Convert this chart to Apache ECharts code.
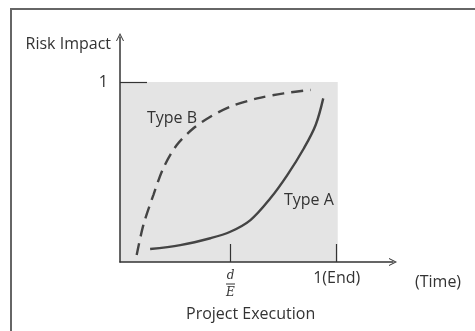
<!DOCTYPE html>
<html>
<head>
<meta charset="utf-8">
<script src="https://cdn.jsdelivr.net/npm/echarts@6/dist/echarts.min.js"></script>
<style>
	html, body { margin: 0; padding: 0; background: #fff; }
	#chart { width: 475px; height: 331px; }
</style>
</head>
<body>
<div id="chart"></div>
<script>
	// values (x: 0..1 = start..end, y: 0..1 risk impact)
	const typeA = [[0.139, 0.072], [0.278, 0.094], [0.417, 0.132], [0.509, 0.168], [0.602, 0.233],
		[0.694, 0.354], [0.772, 0.483], [0.849, 0.632], [0.903, 0.761], [0.938, 0.909]];
	const typeB = [[0.077, 0.039], [0.108, 0.206], [0.154, 0.372], [0.2, 0.521], [0.262, 0.65],
		[0.339, 0.743], [0.417, 0.807], [0.509, 0.863], [0.633, 0.909], [0.756, 0.937], [0.88, 0.956]];
	const xTicks = [0.51, 1];
	const yTicks = [1];
	const xTickLabels = ['{n|d}\n{bar|}\n{n|E}', '1(End)'];

	const font = 'Open Sans';
	const ink = '#333';
	const chevron = 'path://M0,10 L5,0 L10,10 L8.8,10 L5,2.6 L1.2,10 Z';

	let chart = echarts.init(document.getElementById('chart'));
	let option = {
		backgroundColor: '#fff',
		animation: false,
		textStyle: { fontFamily: font },
		grid: { left: 120, right: 82, top: 37, bottom: 69 },
		xAxis: {
			type: 'value', min: 0, max: 1.26, z: 10,
			name: '(Time)', nameLocation: 'end', nameGap: 22,
			nameTextStyle: { color: ink, fontSize: 16, fontFamily: font, verticalAlign: 'top', padding: [12, 0, 0, 0] },
			splitLine: { show: false },
			axisLine: { lineStyle: { color: ink, width: 1.5 }, symbol: ['none', chevron], symbolSize: [11, 8] },
			axisTick: { show: true, inside: true, length: 18, lineStyle: { color: ink, width: 1.2 }, customValues: xTicks },
			axisLabel: {
				customValues: xTicks, margin: 8, color: ink, fontSize: 16,
				formatter: function (v) {
					let i = xTicks.findIndex(t => Math.abs(t - v) < 1e-6);
					return i < 0 ? '' : xTickLabels[i];
				},
				rich: {
					n: { fontFamily: 'DejaVu Serif', fontStyle: 'italic', fontSize: 12, color: ink, lineHeight: 11, align: 'center' },
					bar: { width: 9, height: 1, backgroundColor: ink, lineHeight: 6, align: 'center' }
				}
			}
		},
		yAxis: {
			type: 'value', min: 0, max: 1.25, z: 10,
			name: 'Risk Impact', nameLocation: 'end', nameGap: -7,
			nameTextStyle: { color: ink, fontSize: 16, fontFamily: font, align: 'right', verticalAlign: 'middle', padding: [0, 9, 0, 0] },
			splitLine: { show: false },
			axisLine: { show: true, lineStyle: { color: ink, width: 1.5 }, symbol: ['none', chevron], symbolSize: [10, 8] },
			axisTick: { show: true, inside: true, length: 27, lineStyle: { color: ink, width: 1.2 }, customValues: yTicks },
			axisLabel: { customValues: yTicks, margin: 12, color: ink, fontSize: 16 }
		},
		series: [{
			name: 'Type A',
			type: 'line',
			data: typeA,
			smooth: 0.35,
			symbol: 'none',
			lineStyle: { color: '#444', width: 2.4 },
			markArea: {
				silent: true,
				itemStyle: { color: '#e4e4e4' },
				data: [[{ coord: [0, 0] }, { coord: [1.005, 1] }]]
			}
		}, {
			name: 'Type B',
			type: 'line',
			data: typeB,
			smooth: 0.3,
			symbol: 'none',
			lineStyle: { color: '#444', width: 2.4, type: [12, 7] }
		}],
		graphic: [
			{ type: 'rect', shape: { x: 11, y: 9, width: 470, height: 340 }, style: { fill: 'none', stroke: '#666', lineWidth: 2 }, z: 100 },
			{ type: 'text', left: 147, top: 110, style: { text: 'Type B', fill: ink, fontSize: 16, fontFamily: font }, z: 100 },
			{ type: 'text', left: 284, top: 192, style: { text: 'Type A', fill: ink, fontSize: 16, fontFamily: font }, z: 100 },
			{ type: 'text', left: 186, top: 306, style: { text: 'Project Execution', fill: ink, fontSize: 16, fontFamily: font }, z: 100 }
		]
	};
	chart.setOption(option);
</script>
</body>
</html>
